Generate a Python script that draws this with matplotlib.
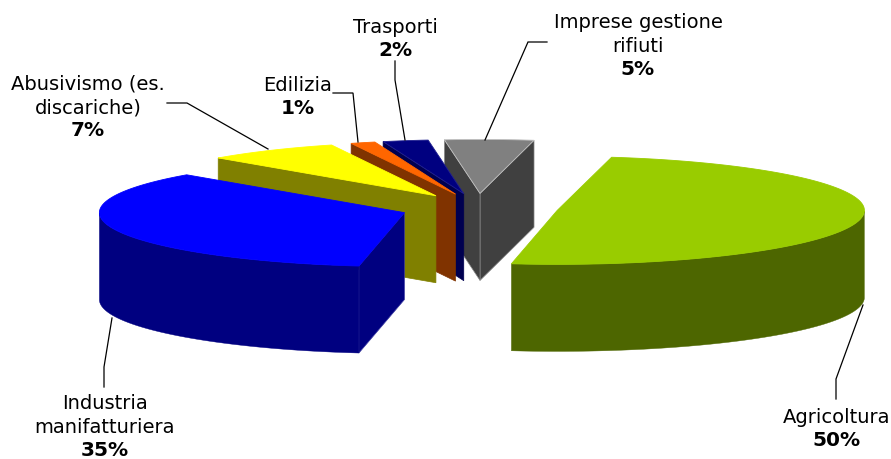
import numpy as np
import matplotlib
matplotlib.use("Agg")
import matplotlib.pyplot as plt
from matplotlib.patches import Polygon

# --- data (clockwise from the top right)
categories = ["Agricoltura", "Industria manifatturiera", "Abusivismo (es. discariche)",
              "Edilizia", "Trasporti", "Imprese gestione rifiuti"]
values = [49.6, 35.0, 7.1, 1.3, 2.4, 4.7]
pct_labels = ["50%", "35%", "7%", "1%", "2%", "5%"]
name_lines = [["Agricoltura"], ["Industria", "manifatturiera"], ["Abusivismo (es.", "discariche)"],
              ["Edilizia"], ["Trasporti"], ["Imprese gestione", "rifiuti"]]

# --- styles
top_colors = ["#99CC00", "#0000FF", "#FFFF00", "#FF6600", "#000080", "#808080"]
wall_colors = ["#4D6600", "#000080", "#808000", "#803300", "#000050", "#404040"]
wall_edges = ["#4D6600", "#3a3aa0", "#808000", "#803300", "#000050", "#8a8a8a"]
edge_colors = ["#99CC00", "#0000FF", "#FFFF00", "#FF6600", "#202090", "#C0C0C0"]
nudge_x = [-4.5, 2, 0, 0, -1, -3]
rx_scale = [1.007, 1, 1, 1, 1, 1]
label_pos = [(837, 423), (105, 409), (88, 89), (298, 91), (395, 33), (638, 28)]
leaders = [[(863, 306), (836, 380), (836, 400)],
           [(112, 319), (104, 368), (104, 388)],
           [(167, 104), (187, 104), (268, 150)],
           [(333, 94), (353, 94), (358, 143)],
           [(395, 62), (395, 81), (405, 141)],
           [(547, 43), (528, 43), (485, 141)]]
START = 79.8
CX, CY, RX, RY, DEPTH, EXPLODE = 480.5, 209, 305, 54, 87, 0.27
draw_order = [5, 4, 3, 2, 0, 1]
FS, FS_BOLD = 14, 14.5
LINE, LINE_PCT = 24, 23

fig = plt.figure(figsize=(8.91, 4.60), dpi=100)
ax = fig.add_axes([0, 0, 1, 1])
ax.set_xlim(0, 891)
ax.set_ylim(460, 0)
ax.axis("off")

spans = np.array(values) / sum(values) * 360
ends = START - np.concatenate([[0], np.cumsum(spans)[:-1]])
begins = ends - spans

for i in draw_order:
    a0, a1 = np.radians(begins[i]), np.radians(ends[i])
    mid = (a0 + a1) / 2
    c = (CX + EXPLODE * RX * np.cos(mid) + nudge_x[i], CY - EXPLODE * RY * np.sin(mid))
    t = np.linspace(a0, a1, 200)
    arc = np.column_stack([c[0] + RX * rx_scale[i] * np.cos(t), c[1] - RY * np.sin(t)])
    top = np.vstack([[c], arc])
    down = np.array([0, DEPTH])
    wc = wall_colors[i]
    z = 1 + draw_order.index(i)
    # radial walls that face the viewer
    if np.cos(a0) > 0:
        quad = np.array([c, arc[0], arc[0] + down, np.array(c) + down])
        ax.add_patch(Polygon(quad, closed=True, fc=wc, ec=wall_edges[i], lw=0.5, zorder=z))
    if np.cos(a1) < 0:
        quad = np.array([c, arc[-1], arc[-1] + down, np.array(c) + down])
        ax.add_patch(Polygon(quad, closed=True, fc=wc, ec=wall_edges[i], lw=0.5, zorder=z))
    # outer rim wall: only the front half of the ellipse faces the viewer
    front = arc[np.sin(t) < 0.0]
    if len(front) > 1:
        wall = np.vstack([front, (front + down)[::-1]])
        ax.add_patch(Polygon(wall, closed=True, fc=wc, ec=wc, lw=0.3, zorder=z))
    ax.add_patch(Polygon(top, closed=True, fc=top_colors[i], ec=edge_colors[i], lw=0.6, zorder=z + 0.5))

for i in range(len(categories)):
    xs, ys = zip(*leaders[i])
    ax.plot(xs, ys, color="black", lw=0.9, zorder=20, solid_joinstyle="miter")
    x, y = label_pos[i]
    for k, line in enumerate(name_lines[i]):
        ax.text(x, y, line, ha="center", va="baseline", fontsize=FS, family="DejaVu Sans", color="black")
        y += LINE if k < len(name_lines[i]) - 1 else LINE_PCT
    ax.text(x, y, pct_labels[i], ha="center", va="baseline", fontsize=FS_BOLD, family="DejaVu Sans",
            fontweight="bold", color="black")

fig.savefig("out.png", dpi=100, facecolor="white")
